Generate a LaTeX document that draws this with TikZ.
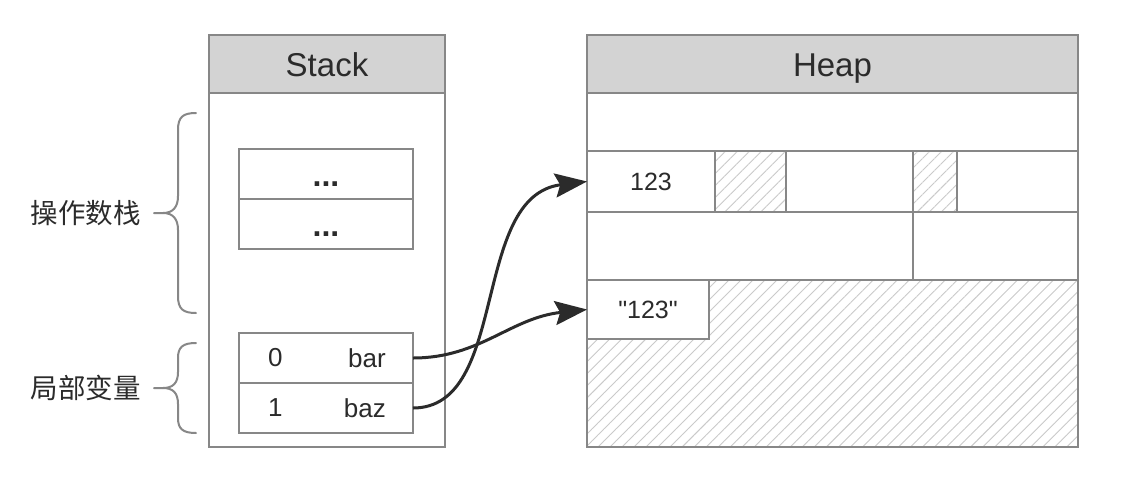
\documentclass[tikz,border=0pt]{standalone}
\usepackage{fontspec}
\setmainfont{Liberation Sans}
\newfontfamily\rawsans{Liberation Sans}
\newfontfamily\cjk{Noto Sans CJK SC}
\usetikzlibrary{arrows.meta,patterns.meta}
\definecolor{linegray}{HTML}{878787}
\definecolor{headgray}{HTML}{D3D3D3}
\definecolor{txt}{HTML}{2B2B2B}
\definecolor{hatchgray}{HTML}{CACACA}
\tikzset{
  x=1pt, y=-1pt,
  box/.style={draw=linegray, line width=2pt, rectangle, inner sep=0pt, outer sep=0pt, anchor=north west, text=txt},
  head/.style={box, fill=headgray, font=\fontsize{33}{35}\selectfont, text height=24pt, text depth=0pt},
  cell/.style={box, font=\fontsize{25}{28}\selectfont},
  dots/.style={box, font=\fontsize{32}{32}\selectfont\bfseries},
  hatch/.style={box, pattern={Lines[distance=8.5pt, angle=45, line width=0.9pt]}, pattern color=hatchgray},
  lbl/.style={text=txt, inner sep=0pt, font=\fontsize{26}{28}\selectfont},
  zhlbl/.style={text=txt, inner sep=0pt, font=\cjk\fontsize{27.5}{30}\selectfont},
  brace/.style={draw=linegray, line width=2pt, line cap=round},
  ptr/.style={draw=txt, line width=3pt, -{Stealth[length=32pt, width=24pt, inset=5pt]}},
}
\begin{document}
\begin{tikzpicture}
\useasboundingbox (0,0) rectangle (1130,480);
\fill[white] (0,0) rectangle (1130,480);

% Stack
\node[box, minimum width=236, minimum height=412] (stack) at (209,35) {};
\node[head, minimum width=236, minimum height=58] (stackh) at (209,35) {Stack};
\node[dots, minimum width=174, minimum height=50] (d1) at (239,149) {\smash{\raisebox{-12pt}{...}}};
\node[dots, minimum width=174, minimum height=50] (d2) at (239,199) {\smash{\raisebox{-12pt}{...}}};
\node[cell, minimum width=174, minimum height=50] (v0) at (239,333) {};
\node[cell, minimum width=174, minimum height=50] (v1) at (239,383) {};
\node[lbl, anchor=west] (i0) at (268,358) {0};
\node[lbl, anchor=east] (n0) at (386,358) {bar};
\node[lbl, anchor=west] (i1) at (268,408) {1};
\node[lbl, anchor=east] (n1) at (386,408) {baz};

% Heap
\node[box, minimum width=491, minimum height=412] (heap) at (587,35) {};
\node[head, minimum width=491, minimum height=58] (heaph) at (587,35) {Heap};
\node[box, minimum width=491, minimum height=58] (r1) at (587,93) {};
\node[cell, minimum width=128, minimum height=61] (n123) at (587,151) {123};
\node[hatch, minimum width=71, minimum height=61] (h1) at (715,151) {};
\node[box, minimum width=127, minimum height=61] (e1) at (786,151) {};
\node[hatch, minimum width=44, minimum height=61] (h2) at (913,151) {};
\node[box, minimum width=121, minimum height=61] (e2) at (957,151) {};
\node[box, minimum width=326, minimum height=68] (e3) at (587,212) {};
\node[box, minimum width=165, minimum height=68] (e4) at (913,212) {};
\node[hatch, minimum width=491, minimum height=167] (hfree) at (587,280) {};
\node[cell, fill=white, minimum width=122, minimum height=59] (s123) at (587,280) {{\rawsans "123"}};

% braces
\draw[brace] (196,113) .. controls (183,113) and (178,117) .. (178,130) -- (178,196)
  .. controls (178,207) and (173,213) .. (163,213) -- (154,213);
\draw[brace] (196,313) .. controls (183,313) and (178,309) .. (178,296) -- (178,230)
  .. controls (178,219) and (173,213) .. (163,213);
\draw[brace] (196,343) .. controls (183,343) and (178,347) .. (178,358) -- (178,372)
  .. controls (178,383) and (173,388) .. (163,388) -- (154,388);
\draw[brace] (196,433) .. controls (183,433) and (178,429) .. (178,418) -- (178,404)
  .. controls (178,393) and (173,388) .. (163,388);
\node[zhlbl, anchor=east] (opstack) at (141,213) {操作数栈};
\node[zhlbl, anchor=east] (locals) at (141,388) {局部变量};

% pointers
\draw[ptr] (v0.east) .. controls (480,358) and (510,318) .. (s123.west);
\draw[ptr] (v1.east) .. controls (510,408) and (470,196) .. (n123.west);
\end{tikzpicture}
\end{document}
